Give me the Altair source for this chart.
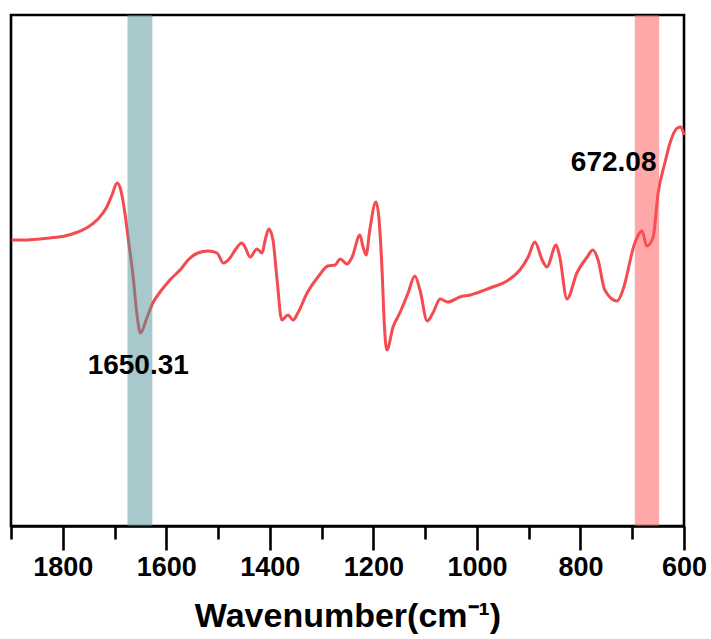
import altair as alt
import pandas as pd

wavenumber = [1899, 1873, 1844, 1825, 1796, 1771, 1751, 1732, 1715, 1705,
              1695, 1689, 1680, 1674, 1664, 1657, 1650, 1637, 1626, 1612,
              1593, 1570, 1558, 1539, 1519, 1502, 1490, 1477, 1467, 1454,
              1448, 1438, 1425, 1415, 1409, 1402, 1394, 1386, 1377, 1365,
              1355, 1346, 1328, 1307, 1288, 1274, 1264, 1251, 1241, 1226,
              1220, 1214, 1207, 1195, 1189, 1183, 1179, 1174, 1162, 1149,
              1133, 1120, 1110, 1096, 1085, 1071, 1056, 1033, 1013, 975,
              942, 917, 901, 888, 874, 865, 847, 840, 826, 807,
              787, 776, 766, 753, 729, 718, 695, 681, 672, 660,
              650, 637, 627, 613, 606, 600]
intensity = [286, 286, 287, 288, 290, 294, 299, 307, 319, 331,
             343, 338, 313, 289, 249, 213, 193, 209, 223, 234,
             246, 258, 266, 273, 275, 273, 263, 268, 276, 283,
             279, 269, 277, 273, 286, 297, 286, 246, 206, 211,
             206, 213, 233, 249, 260, 261, 267, 262, 269, 291,
             279, 271, 296, 324, 306, 253, 203, 176, 199, 213,
             233, 250, 236, 205, 213, 227, 224, 229, 231, 238,
             245, 256, 269, 284, 266, 259, 281, 269, 227, 253,
             269, 276, 266, 236, 225, 236, 283, 295, 280, 288,
             333, 363, 383, 398, 399, 391]
assert len(wavenumber) == len(intensity)

band_start = [1675, 695]
band_end = [1627, 648]
band_color = ["#519197", "#ff5155"]

peak_labels = ["1650.31", "672.08"]
peak_x = [1650.31, 672.08]
peak_y = [160, 363]

major_ticks = [1800, 1600, 1400, 1200, 1000, 800, 600]
minor_ticks = [1900, 1700, 1500, 1300, 1100, 900, 700]

FONT = "Liberation Sans"

spec = pd.DataFrame({"wn": wavenumber, "t": intensity})
bands = pd.DataFrame({"x1": band_start, "x2": band_end, "c": band_color})
labels = pd.DataFrame({"label": peak_labels, "x": peak_x, "y": peak_y})

xscale = alt.Scale(domain=[600, 1900], reverse=True, nice=False, zero=False)
yscale = alt.Scale(domain=[0, 511], nice=False, zero=False)

line = alt.Chart(spec).mark_line(
    color="#f44b50", strokeWidth=3, interpolate="monotone"
).encode(
    x=alt.X("wn:Q", scale=xscale, title="Wavenumber(cm⁻¹)",
            axis=alt.Axis(
                orient="bottom",
                values=major_ticks, format="d",
                tickSize=24, tickWidth=2.6, tickColor="black",
                domainColor="black", domainWidth=2.6,
                labelFont=FONT, labelFontSize=27, labelFontWeight="bold",
                labelColor="black", labelPadding=4, labelOverlap=False,
                labelFlush=False,
                titleFont=FONT, titleFontSize=34, titleFontWeight="bold",
                titleColor="black", titlePadding=19, grid=False)),
    y=alt.Y("t:Q", scale=yscale, axis=None),
)

rects = alt.Chart(bands).mark_rect(opacity=0.5).encode(
    x=alt.X("x1:Q", scale=xscale, axis=alt.Axis(
        orient="bottom", values=minor_ticks, tickSize=13, tickWidth=2.6,
        tickColor="black", domain=False, labels=False, title=None, grid=False)),
    x2="x2:Q",
    color=alt.Color("c:N", scale=None),
)

text_left = alt.Chart(labels.iloc[[0]]).mark_text(
    font=FONT, fontSize=28, fontWeight="bold", color="black", dx=-2
).encode(x=alt.X("x:Q", axis=None), y="y:Q", text="label:N")

text_right = alt.Chart(labels.iloc[[1]]).mark_text(
    font=FONT, fontSize=28, fontWeight="bold", color="black", dx=-33
).encode(x=alt.X("x:Q", axis=None), y="y:Q", text="label:N")

chart = alt.layer(line, rects, text_left, text_right).resolve_axis(
    x="independent"
).properties(
    width=673, height=511,
    autosize=alt.AutoSizeParams(type="none"),
    padding={"left": 11, "top": 15, "right": 27, "bottom": 113},
).configure_view(stroke="black", strokeWidth=2.6)

chart.save("out.html", embed_options={"renderer": "svg", "actions": False})
